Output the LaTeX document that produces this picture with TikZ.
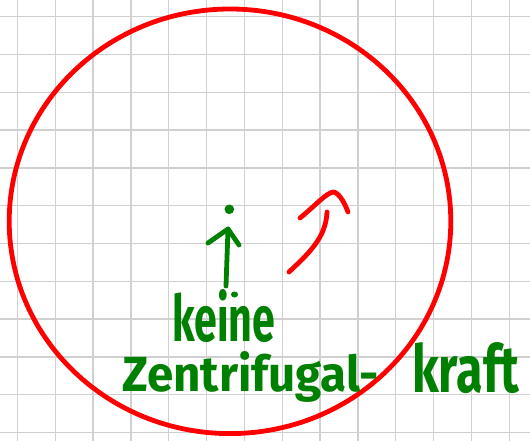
\documentclass[tikz,border=0pt]{standalone}
\usepackage{fontspec}
\setmainfont{Fira Sans}
\definecolor{penred}{RGB}{255,0,0}
\definecolor{pengreen}{RGB}{0,128,0}
\definecolor{gridgray}{RGB}{208,208,208}
\tikzset{
  gridline/.style={draw=gridgray, line width=1.3pt},
  redpen/.style={draw=penred, line width=4.8pt, line cap=round, line join=round},
  greenpen/.style={draw=pengreen, line width=4.8pt, line cap=round, line join=round},
  hand/.style={text=pengreen, inner sep=0pt, font=\fontsize{50}{60}\selectfont\bfseries},
}
\begin{document}
\begin{tikzpicture}[x=1pt,y=-1pt]
\useasboundingbox (0,0) rectangle (530,441);
\fill[white] (0,0) rectangle (530,441);
% grid
\foreach \k in {0,...,13} {
  \draw[gridline] ({17.3+37.85*\k},0) -- ({17.3+37.85*\k},441);
}
\foreach \k in {0,...,11} {
  \draw[gridline] (0,{16.7+37.8*\k}) -- (530,{16.7+37.8*\k});
}
% big circle
\coordinate (c) at (230,221.3);
\draw[redpen] (c) ellipse [x radius=220.8, y radius=212.3];
% small red curved arrow
\coordinate (r1) at (289,272);
\coordinate (r2) at (327,212);
\coordinate (h1) at (300,218);
\coordinate (h2) at (334,192);
\coordinate (h3) at (348,212);
\draw[redpen] (r1) .. controls (308,254) and (326,238) .. (r2);
\draw[redpen] (h1) .. controls (316,205) and (327,192) .. (h2) .. controls (340,194) and (345,204) .. (h3);
% green mass point and arrow
\coordinate (dot) at (229.3,209.3);
\fill[pengreen] (dot) circle (4.8);
\coordinate (tip) at (228,229);
\coordinate (tail) at (226,286);
\coordinate (wl) at (208,243);
\coordinate (wr) at (239,245);
\draw[greenpen] (tail) -- (tip);
\draw[greenpen] (wl) -- (tip) -- (wr);
\coordinate (mark) at (234.5,294.5);
\fill[pengreen] (mark) ellipse [x radius=3.6, y radius=3];
% text
\node[hand, anchor=base west] (keine) at (172,341) {\resizebox{103pt}{52pt}{keine}};
\node[hand, anchor=base west] (zentri) at (122,391) {\resizebox{257pt}{40pt}{Zentrifugal-}};
\node[hand, anchor=base west] (kraft) at (412,392) {\resizebox{107pt}{50pt}{kraft}};
\end{tikzpicture}
\end{document}
